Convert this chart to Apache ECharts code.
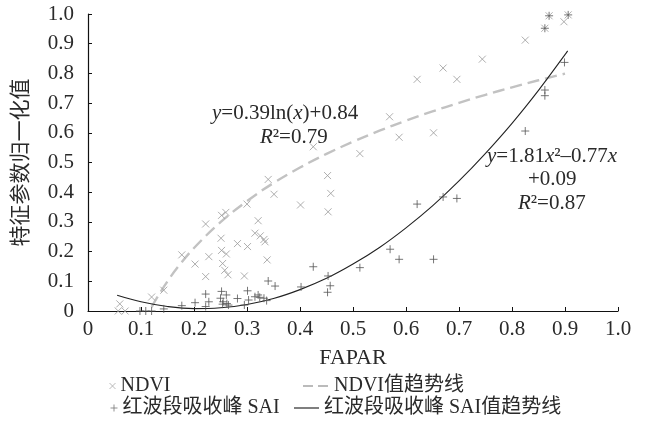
<!DOCTYPE html>
<html>
<head>
<meta charset="utf-8">
<script src="https://cdn.jsdelivr.net/npm/echarts@6/dist/echarts.min.js"></script>
<style>
  html, body { margin: 0; padding: 0; background: #fff; }
  #chart { width: 646px; height: 437px; }
</style>
</head>
<body>
<div id="chart"></div>
<script>
// NDVI (normalised) against FAPAR
var ndviX = [0.060, 0.057, 0.070, 0.120, 0.143, 0.177, 0.202, 0.222, 0.228, 0.222,
             0.252, 0.260, 0.251, 0.252, 0.261, 0.254, 0.258, 0.264, 0.282, 0.301,
             0.295, 0.300, 0.315, 0.325, 0.332, 0.334, 0.321, 0.351, 0.340, 0.401,
             0.338, 0.453, 0.458, 0.452, 0.513, 0.587, 0.652, 0.425, 0.569, 0.621,
             0.670, 0.696, 0.744, 0.825, 0.862, 0.870, 0.898, 0.906];
var ndviY = [0.024, 0.000, 0.000, 0.047, 0.070, 0.189, 0.158, 0.293, 0.183, 0.116,
             0.322, 0.332, 0.245, 0.204, 0.192, 0.160, 0.137, 0.122, 0.227, 0.217,
             0.118, 0.360, 0.262, 0.253, 0.241, 0.233, 0.304, 0.393, 0.443, 0.357,
             0.172, 0.334, 0.396, 0.456, 0.530, 0.585, 0.600, 0.553, 0.654, 0.780,
             0.818, 0.780, 0.848, 0.912, 0.952, 0.994, 0.974, 0.997];

// Red-edge absorption peak SAI (normalised) against FAPAR
var saiX = [0.098, 0.109, 0.120, 0.143, 0.177, 0.202, 0.222, 0.222, 0.228, 0.252,
            0.261, 0.250, 0.255, 0.262, 0.254, 0.265, 0.282, 0.295, 0.301, 0.303,
            0.315, 0.321, 0.324, 0.332, 0.337, 0.340, 0.353, 0.402, 0.425, 0.453,
            0.457, 0.452, 0.513, 0.570, 0.587, 0.621, 0.652, 0.670, 0.696, 0.825,
            0.862, 0.862, 0.899, 0.870, 0.906, 0.862];
var saiY = [0.000, 0.000, 0.000, 0.007, 0.018, 0.028, 0.057, 0.015, 0.031, 0.066,
            0.054, 0.043, 0.031, 0.025, 0.023, 0.020, 0.042, 0.020, 0.068, 0.037,
            0.048, 0.054, 0.046, 0.043, 0.035, 0.101, 0.084, 0.081, 0.149, 0.118,
            0.085, 0.063, 0.146, 0.208, 0.174, 0.360, 0.174, 0.384, 0.379, 0.606,
            0.744, 0.725, 0.837, 0.994, 0.997, 0.952];

// Trend line readings
var ndviTrendX = [0.12, 0.13, 0.15, 0.17, 0.20, 0.25, 0.30, 0.35, 0.40, 0.45, 0.50,
                  0.55, 0.60, 0.65, 0.70, 0.75, 0.80, 0.85, 0.90];
var ndviTrendY = [0.013, 0.044, 0.100, 0.149, 0.212, 0.299, 0.370, 0.431, 0.483, 0.529, 0.570,
                  0.607, 0.641, 0.672, 0.701, 0.728, 0.753, 0.777, 0.799];
var saiTrendX = [0.055, 0.10, 0.15, 0.20, 0.25, 0.30, 0.35, 0.40, 0.45, 0.50,
                 0.55, 0.60, 0.65, 0.70, 0.75, 0.80, 0.85, 0.90, 0.905];
var saiTrendY = [0.053, 0.031, 0.015, 0.008, 0.011, 0.022, 0.042, 0.072, 0.110, 0.158,
                 0.214, 0.280, 0.354, 0.438, 0.531, 0.632, 0.743, 0.863, 0.876];

var seriesNames = ['NDVI', '红波段吸收峰 SAI', 'NDVI值趋势线', '红波段吸收峰 SAI值趋势线'];
var axisNames = ['FAPAR', '特征参数归一化值'];

function pairs(xs, ys) {
  return xs.map(function (x, i) { return [x, ys[i]]; });
}

var SERIF = '"Liberation Serif", "Times New Roman", "Noto Sans CJK SC", serif';
var TEXT = '#2a2a2a';
var CROSS = 'path://M0,0L10,10M10,0L0,10';
var PLUS = 'path://M5,0L5,10M0,5L10,5';
var DASH_ICON = 'path://M0,0h10v2h-10zM15,0h10v2h-10z';
var LINE_ICON = 'path://M0,0h26v1.2h-26z';

function tickLabel(v) { return v === 0 ? '0' : v.toFixed(1); }

var chart = echarts.init(document.getElementById('chart'), null, { renderer: 'canvas' });

var legendText = { fontFamily: SERIF, fontSize: 20, color: TEXT };
var eqFont = '21px ' + SERIF;
var eqRich = { i: { fontStyle: 'italic', fontSize: 21, fontFamily: SERIF, fill: TEXT } };

chart.setOption({
  animation: false,
  backgroundColor: '#fff',
  grid: { left: 88, right: 28, top: 14, bottom: 126 },
  xAxis: {
    type: 'value', min: 0, max: 1, interval: 0.1,
    name: axisNames[0], nameLocation: 'middle', nameGap: 36,
    nameTextStyle: { fontFamily: SERIF, fontSize: 22, color: TEXT },
    axisLine: { lineStyle: { color: '#111', width: 1.2 } },
    axisTick: { inside: true, length: 4, lineStyle: { color: '#111' } },
    axisLabel: { fontFamily: SERIF, fontSize: 21, color: TEXT, margin: 8,
                 formatter: tickLabel },
    splitLine: { show: false }
  },
  yAxis: {
    type: 'value', min: 0, max: 1, interval: 0.1,
    name: axisNames[1], nameLocation: 'middle', nameGap: 56, nameRotate: 90,
    nameTextStyle: { fontFamily: SERIF, fontSize: 21, color: TEXT },
    axisLine: { show: true, lineStyle: { color: '#111', width: 1.2 } },
    axisTick: { show: true, inside: true, length: 4, lineStyle: { color: '#111' } },
    axisLabel: { fontFamily: SERIF, fontSize: 21, color: TEXT, margin: 14,
                 formatter: tickLabel },
    splitLine: { show: false }
  },
  legend: [
    { data: [{ name: seriesNames[0], icon: CROSS }], left: 104, top: 371,
      itemWidth: 6, itemHeight: 6, itemGap: 0, textStyle: legendText,
      itemStyle: { color: 'transparent', borderColor: '#aaa', borderWidth: 1 } },
    { data: [{ name: seriesNames[1], icon: PLUS }], left: 105, top: 393,
      itemWidth: 7, itemHeight: 7, itemGap: 0, textStyle: legendText,
      itemStyle: { color: 'transparent', borderColor: '#777', borderWidth: 1 } },
    { data: [{ name: seriesNames[2], icon: DASH_ICON }], left: 298, top: 371,
      itemWidth: 27, itemHeight: 2, itemGap: 0, textStyle: legendText,
      itemStyle: { color: '#bbb', borderWidth: 0 } },
    { data: [{ name: seriesNames[3], icon: LINE_ICON }], left: 289, top: 393,
      itemWidth: 25, itemHeight: 1.2, itemGap: 0, textStyle: legendText,
      itemStyle: { color: '#222', borderWidth: 0 } }
  ],
  series: [
    {
      name: seriesNames[0], type: 'scatter', symbol: CROSS, symbolSize: 7,
      itemStyle: { color: 'transparent', borderColor: '#9a9a9a', borderWidth: 1 },
      data: pairs(ndviX, ndviY), z: 3
    },
    {
      name: seriesNames[1], type: 'scatter', symbol: PLUS, symbolSize: 8,
      itemStyle: { color: 'transparent', borderColor: '#555', borderWidth: 1 },
      data: pairs(saiX, saiY), z: 4
    },
    {
      name: seriesNames[2], type: 'line', smooth: 0.4, symbol: 'none',
      lineStyle: { color: '#c2c2c2', width: 2.4, type: [12, 6] },
      itemStyle: { color: '#c2c2c2' },
      data: pairs(ndviTrendX, ndviTrendY), z: 2
    },
    {
      name: seriesNames[3], type: 'line', smooth: 0.4, symbol: 'none',
      lineStyle: { color: '#222', width: 1.1 },
      itemStyle: { color: '#222' },
      data: pairs(saiTrendX, saiTrendY), z: 2
    }
  ],
  graphic: [
    { type: 'text', left: 212, top: 103, z: 10,
      style: { text: '{i|y}=0.39ln({i|x})+0.84', fill: TEXT, font: eqFont, rich: eqRich } },
    { type: 'text', left: 260, top: 127, z: 10,
      style: { text: '{i|R}²=0.79', fill: TEXT, font: eqFont, rich: eqRich } },
    { type: 'text', left: 487, top: 146, z: 10,
      style: { text: '{i|y}=1.81{i|x}²–0.77{i|x}', fill: TEXT, font: eqFont, rich: eqRich } },
    { type: 'text', left: 528, top: 169, z: 10,
      style: { text: '+0.09', fill: TEXT, font: eqFont } },
    { type: 'text', left: 518, top: 193, z: 10,
      style: { text: '{i|R}²=0.87', fill: TEXT, font: eqFont, rich: eqRich } }
  ]
});
</script>
</body>
</html>
